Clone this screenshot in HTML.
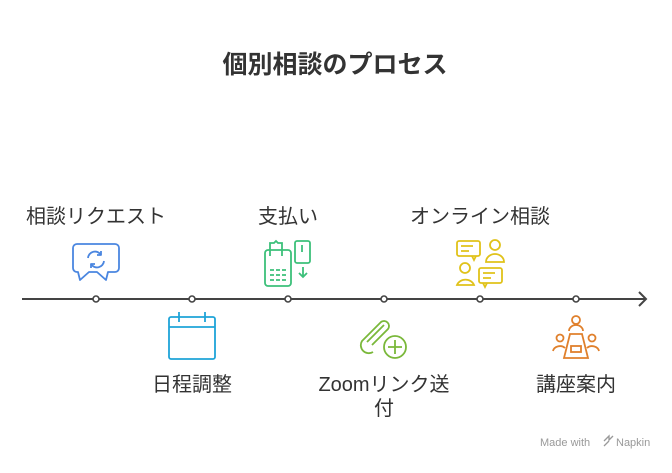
<!DOCTYPE html>
<html><head><meta charset="utf-8"><style>
html,body{margin:0;padding:0;background:#fff;}
body{width:672px;height:468px;overflow:hidden;}
text{font-family:"Liberation Sans","Noto Sans CJK JP",sans-serif;fill:#333;}
</style></head><body>
<svg width="672" height="468" viewBox="0 0 672 468" xmlns="http://www.w3.org/2000/svg">
<text x="335" y="73" text-anchor="middle" font-size="25" font-weight="bold">個別相談のプロセス</text>
<line x1="22" y1="299" x2="646" y2="299" stroke="#444" stroke-width="2"/>
<polyline points="639,292 646,299 639,306" fill="none" stroke="#444" stroke-width="2"/>
<g fill="#fff" stroke="#444" stroke-width="1.6">
<circle cx="96" cy="299" r="3"/><circle cx="192" cy="299" r="3"/><circle cx="288" cy="299" r="3"/>
<circle cx="384" cy="299" r="3"/><circle cx="480" cy="299" r="3"/><circle cx="576" cy="299" r="3"/>
</g>
<g font-size="20">
<text x="96" y="223" text-anchor="middle">相談リクエスト</text>
<text x="288" y="223" text-anchor="middle">支払い</text>
<text x="480" y="223" text-anchor="middle">オンライン相談</text>
<text x="192" y="391" text-anchor="middle">日程調整</text>
<text x="384" y="391" text-anchor="middle">Zoomリンク送</text>
<text x="384" y="415" text-anchor="middle">付</text>
<text x="576" y="391" text-anchor="middle">講座案内</text>
</g>
<g fill="none" stroke="#4a86e0" stroke-width="1.8" stroke-linejoin="round">
<path d="M77,244 h38 a4,4 0 0 1 4,4 v20 a4,4 0 0 1 -4,4 h-7 l-2,8 l-9,-8 h-8 l-9,8 l-2,-8 h-1 a4,4 0 0 1 -4,-4 v-20 a4,4 0 0 1 4,-4z"/>
<path d="M88,258 a7,7 0 0 1 13,-3 M104,261 a7,7 0 0 1 -13,3"/>
<path d="M101,251 v4 h-4 M91,268 v-4 h4"/>
</g>
<g fill="none" stroke="#1fa4d8" stroke-width="1.8">
<rect x="169" y="317" width="46" height="42" rx="2"/>
<line x1="169" y1="327" x2="215" y2="327"/>
<line x1="179" y1="312" x2="179" y2="322"/><line x1="205" y1="312" x2="205" y2="322"/>
</g>
<g fill="none" stroke="#3cc07a" stroke-width="1.8">
<rect x="265" y="250" width="26" height="36" rx="3"/>
<path d="M270,256 v-13 h4 l2,-2 l2,2 h4 v13"/>
<rect x="295" y="241" width="15" height="22" rx="2"/>
<line x1="302" y1="245" x2="302" y2="252"/>
<path d="M303,267 v10 M299,273 l4,4 l4,-4"/>
<path d="M270,270 h4 M276,270 h4 M282,270 h4 M270,275 h4 M276,275 h4 M282,275 h4 M270,280 h4 M276,280 h4 M282,280 h4"/>
</g>
<g fill="none" stroke="#7ab83a" stroke-width="1.8">
<path d="M372,345 l16,-16 a5,5 0 0 0 -7,-7 l-19,19 a8,8 0 0 0 11,11"/>
<path d="M367,342 l17,-17"/>
<circle cx="395" cy="347" r="11"/>
<path d="M395,340 v14 M388,347 h14"/>
</g>
<g fill="none" stroke="#e0c21a" stroke-width="1.8">
<rect x="457" y="241" width="23" height="15" rx="2"/><path d="M472,256 l2,4 l2,-4"/>
<path d="M461,246 h12 M461,251 h8"/>
<circle cx="495" cy="245" r="5"/><path d="M486,262 a9,8 0 0 1 18,0z"/>
<circle cx="465" cy="268" r="5"/><path d="M457,285 a9,8 0 0 1 17,0z"/>
<rect x="479" y="268" width="23" height="15" rx="2"/><path d="M483,283 l2,4 l2,-4"/>
<path d="M483,273 h12 M483,278 h8"/>
</g>
<g fill="none" stroke="#e0802c" stroke-width="1.8">
<circle cx="576" cy="320" r="4"/><path d="M569,331 a7,6 0 0 1 14,0"/>
<path d="M570,334 h12 l6,24 h-24z"/>
<rect x="571" y="346" width="10" height="6"/>
<circle cx="560" cy="338" r="3.5"/><path d="M553,351 a7,6 0 0 1 12,-3"/>
<circle cx="592" cy="338" r="3.5"/><path d="M599,351 a7,6 0 0 0 -12,-3"/>
</g>
<text x="540" y="446" font-size="11" style="fill:#999">Made with</text>
<path d="M604,441 l5,-5 v4 l4,-4 M604,446 l5,-5" stroke="#999" stroke-width="1.3" fill="none"/>
<text x="616" y="446" font-size="11" style="fill:#999">Napkin</text>
</svg>
</body></html>
